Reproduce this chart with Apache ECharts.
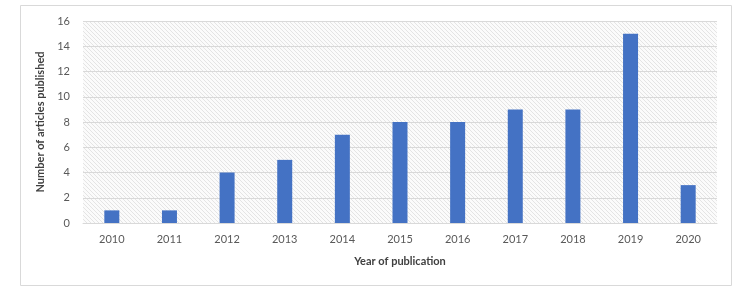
<!DOCTYPE html>
<html><head><meta charset="utf-8">
<script src="https://cdn.jsdelivr.net/npm/echarts@6/dist/echarts.min.js"></script>
<style>html,body{margin:0;padding:0;background:#fff}#c{width:748px;height:299px}</style>
</head><body><div id="c"></div>
<script>
const categories = ['2010','2011','2012','2013','2014','2015','2016','2017','2018','2019','2020'];
const articles = [1,1,4,5,7,8,8,9,9,15,3];

const pc = document.createElement('canvas');
pc.width = 4; pc.height = 4;
const g = pc.getContext('2d');
g.fillStyle = '#fbfbfb'; g.fillRect(0,0,4,4);
g.fillStyle = '#e4e4e4';
for (let i = 0; i < 4; i++) g.fillRect(i, i, 1, 1);

const font = 'Lato, "Open Sans", sans-serif';
const chart = echarts.init(document.getElementById('c'), null, {renderer:'canvas'});
chart.setOption({
  animation:false,
  graphic:[{type:'rect', shape:{x:20.5,y:5.5,width:711,height:280}, style:{fill:'none', stroke:'#d9d9d9', lineWidth:1}, silent:true}],
  grid:{left:83, right:31, top:21, bottom:76, show:true, backgroundColor:{image:pc, repeat:'repeat'}, borderWidth:0},
  xAxis:{type:'category', data:categories,
    axisLine:{lineStyle:{color:'#d9d9d9'}}, axisTick:{show:false},
    axisLabel:{color:'#595959', fontSize:11, fontFamily:font, margin:11},
    name:'Year of publication', nameLocation:'middle', nameGap:33,
    nameTextStyle:{color:'#404040', fontSize:11, fontWeight:'bold', fontFamily:font}},
  yAxis:{type:'value', min:0, max:16, interval:2,
    axisLine:{show:false}, axisTick:{show:false},
    splitLine:{lineStyle:{color:'#d9d9d9'}},
    axisLabel:{color:'#595959', fontSize:11, fontFamily:font, margin:13},
    name:'Number of articles published', nameLocation:'middle', nameGap:36,
    nameTextStyle:{color:'#404040', fontSize:11, fontWeight:'bold', fontFamily:font}},
  series:[{type:'bar', data:articles, barWidth:15, itemStyle:{color:'#4472C4'}}]
});
</script></body></html>
